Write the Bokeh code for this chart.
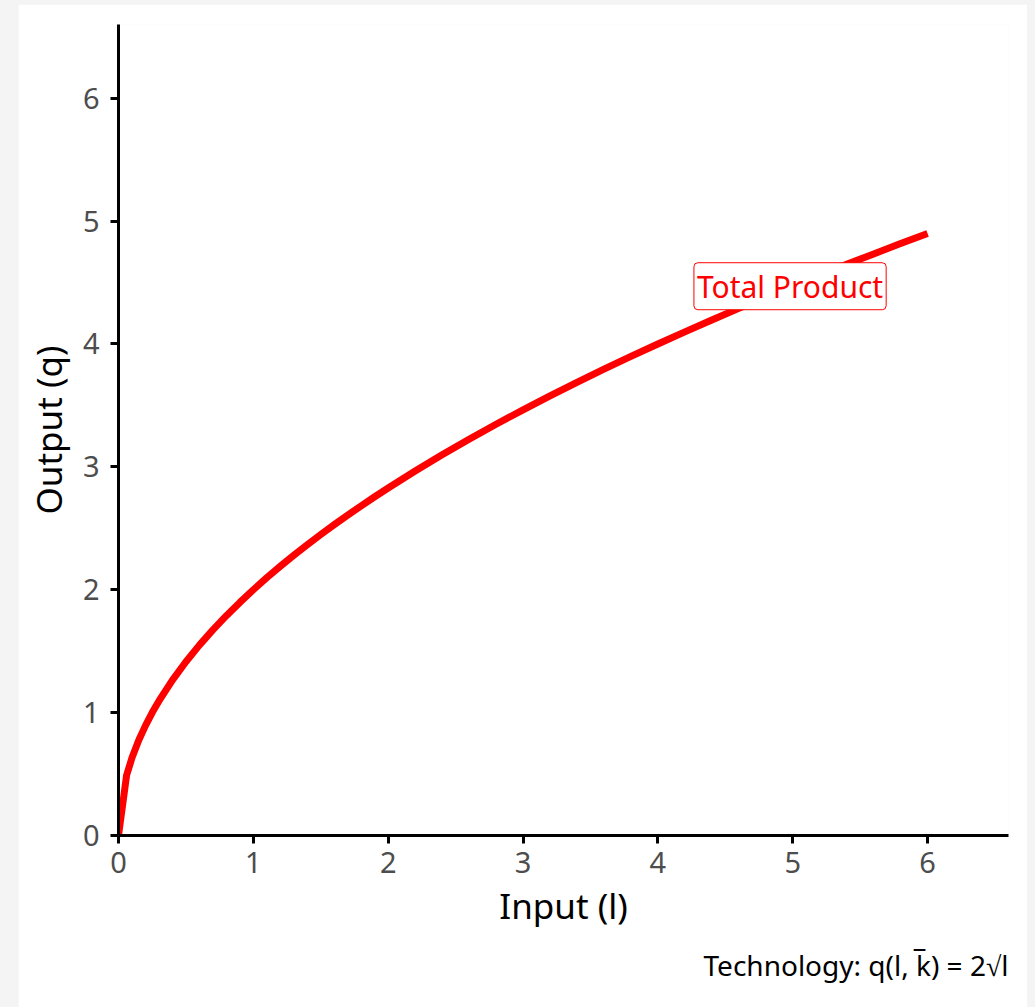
from bokeh.plotting import figure
from bokeh.models import Range1d, Label, Title, FixedTicker
from bokeh.embed import file_html
from bokeh.resources import INLINE

# Data (total product curve)
labor = [0, 0.06, 0.1, 0.15, 0.2, 0.25, 0.3, 0.4, 0.5, 0.6, 0.7, 0.8, 0.9, 1.0,
         1.1, 1.2, 1.3, 1.4, 1.5, 1.6, 1.7, 1.8, 1.9, 2.0, 2.2, 2.4, 2.6, 2.8,
         3.0, 3.2, 3.4, 3.6, 3.8, 4.0, 4.2, 4.4, 4.6, 4.8, 5.0, 5.2, 5.4, 5.6,
         5.8, 6.0]
output = [0, 0.490, 0.632, 0.775, 0.894, 1.000, 1.095, 1.265, 1.414, 1.549,
          1.673, 1.789, 1.897, 2.000, 2.098, 2.191, 2.280, 2.366, 2.449, 2.530,
          2.608, 2.683, 2.757, 2.828, 2.966, 3.098, 3.225, 3.347, 3.464, 3.578,
          3.688, 3.795, 3.899, 4.000, 4.099, 4.195, 4.290, 4.382, 4.472, 4.561,
          4.648, 4.733, 4.817, 4.899]
x_ticks = [0, 1, 2, 3, 4, 5, 6]
y_ticks = [0, 1, 2, 3, 4, 5, 6]
curve_label = "Total Product"
label_pos = (4.98, 4.47)
x_title = "Input (l)"
y_title = "Output (q)"
caption = "Technology: q(l, k\u0305) = 2\u221Al"

FONT = "Noto Sans"

p = figure(width=1009, height=1003, output_backend="svg", toolbar_location=None,
           x_range=Range1d(0, 6.6), y_range=Range1d(0, 6.6),
           min_border_left=100, min_border_right=19, min_border_top=20,
           min_border_bottom=172)

p.background_fill_color = "white"
p.border_fill_color = "white"
p.outline_line_color = None
p.xgrid.grid_line_color = None
p.ygrid.grid_line_color = None

p.line(labor, output, line_color="#ff0000", line_width=7, line_join="round")

for ax in (p.xaxis[0], p.yaxis[0]):
    ax.axis_line_color = "black"
    ax.axis_line_width = 3
    ax.major_tick_line_color = "black"
    ax.major_tick_line_width = 3
    ax.major_tick_out = 8
    ax.major_tick_in = 0
    ax.minor_tick_line_color = None
    ax.major_label_text_font = FONT
    ax.major_label_text_font_size = "29px"
    ax.major_label_text_color = "#4d4d4d"
    ax.axis_label_text_font = FONT
    ax.axis_label_text_font_size = "35px"
    ax.axis_label_text_font_style = "normal"
    ax.axis_label_text_color = "black"

p.xaxis[0].ticker = FixedTicker(ticks=x_ticks)
p.yaxis[0].ticker = FixedTicker(ticks=y_ticks)
p.xaxis[0].axis_label = x_title
p.yaxis[0].axis_label = y_title
p.xaxis[0].major_label_standoff = 8
p.yaxis[0].major_label_standoff = 11
p.xaxis[0].axis_label_standoff = 6
p.yaxis[0].axis_label_standoff = 8

lab = Label(x=label_pos[0], y=label_pos[1], text=curve_label,
            text_align="center", text_baseline="middle",
            text_font=FONT, text_font_size="30px", text_color="#ff0000",
            background_fill_color="white", border_line_color="#ff0000",
            border_line_width=1, padding=3, border_radius=4)
p.add_layout(lab)

cap = Title(text=caption, align="right", text_font=FONT, text_font_size="28px",
            text_font_style="normal", text_color="black", standoff=24)
p.add_layout(cap, "below")

html = file_html(p, INLINE)
html = html.replace("</head>",
                    "<style>html,body{background:#f4f4f4;margin:0;padding:0;}"
                    "body{padding:4px 0 0 18px;}</style></head>", 1)
open("out.html", "w").write(html)
